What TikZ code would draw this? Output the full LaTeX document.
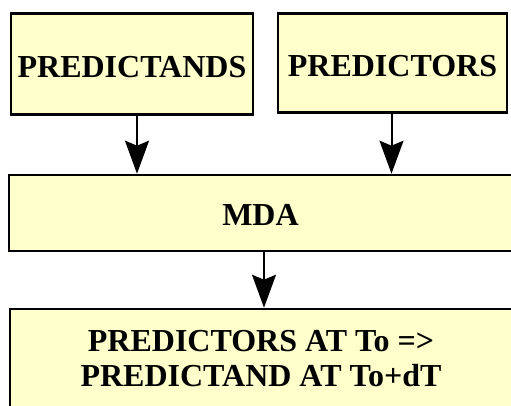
\documentclass[tikz,border=0pt]{standalone}
\usepackage{fontspec}
\setmainfont{Liberation Serif}
\usetikzlibrary{arrows.meta}
\definecolor{boxfill}{HTML}{FFFFCC}
\tikzset{
  box/.style={draw=black, line width=2.6pt, fill=boxfill, inner sep=0pt,
    font=\fontsize{32}{35}\selectfont\bfseries, align=center},
  arr/.style={line width=2pt, -{Stealth[length=33pt,width=24pt,inset=5pt]}}
}
\begin{document}
\begin{tikzpicture}[x=1pt,y=-1pt]
\useasboundingbox (0,0) rectangle (511,406);
\clip (0,0) rectangle (511,406);
\node[box, minimum width=242pt, minimum height=101pt, text height=28pt, text depth=0pt] (pa) at (132,64) {PREDICTANDS};
\node[box, minimum width=229pt, minimum height=99pt, text height=28pt, text depth=0pt] (pr) at (392.5,63) {PREDICTORS};
\node[box, minimum width=503pt, minimum height=76pt, text height=25pt, text depth=0pt] (mda) at (260.5,213) {MDA};
\node[box, minimum width=502pt, minimum height=99pt] (out) at (261,358.5) {PREDICTORS AT To =>\\PREDICTAND AT To+dT};
\draw[arr] ([xshift=5pt]pa.south) -- ([xshift=5pt]pa.south |- mda.north);
\draw[arr] ([xshift=-1pt]pr.south) -- ([xshift=-1pt]pr.south |- mda.north);
\draw[arr] ([xshift=3.5pt]mda.south) -- ([xshift=3.5pt]mda.south |- out.north);
\end{tikzpicture}
\end{document}
